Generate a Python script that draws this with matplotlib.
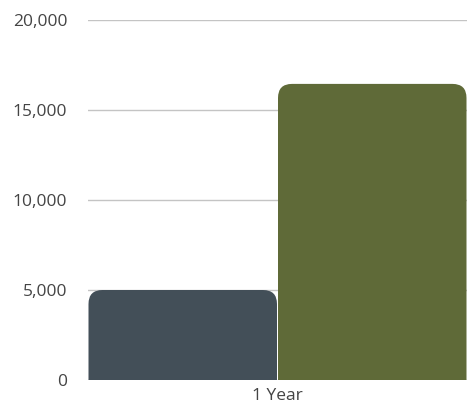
import matplotlib.pyplot as plt
from matplotlib.patches import FancyBboxPatch

# data
categories = ['1 Year']
series_a = [5000]
series_b = [16450]
colors = ['#434f58', '#5f6a38']
yticks = [0, 5000, 10000, 15000, 20000]

plt.rcParams['font.family'] = ['Open Sans', 'DejaVu Sans']

fig = plt.figure(figsize=(4.73, 4.07), dpi=100)
ax = fig.add_axes([88 / 473, 1 - 380 / 407, 379 / 473, 360 / 407])

ax.set_xlim(-0.5, 0.5)
ax.set_ylim(0, 20000)
ax.set_yticks(yticks)
ax.set_yticklabels([f'{v:,}' for v in yticks])
ax.yaxis.grid(True, color='#c4c4c4', linewidth=1)
ax.set_axisbelow(True)
ax.tick_params(axis='y', length=0, pad=15, labelsize=12.5, labelcolor='#444444')
ax.set_xticks([0])
ax.set_xticklabels(categories)
ax.tick_params(axis='x', length=0, pad=6, labelsize=12.5, labelcolor='#444444')
for s in ax.spines.values():
    s.set_visible(False)

# rounded-top bars
xpx = 1.0 / 379
ypx = 20000 / 360
aspect = ypx / xpx
r = 14 * xpx
width = 0.5
for i, vals in enumerate([series_a, series_b]):
    for j, v in enumerate(vals):
        x0 = j - 0.5 + i * width
        bar = FancyBboxPatch((x0 + 0.5 * xpx, -r * aspect), width - xpx, v + r * aspect,
                             boxstyle=f'round,pad=0,rounding_size={r}',
                             mutation_aspect=aspect,
                             facecolor=colors[i], edgecolor='none', zorder=3)
        ax.add_patch(bar)

fig.savefig('out.png', dpi=100)
